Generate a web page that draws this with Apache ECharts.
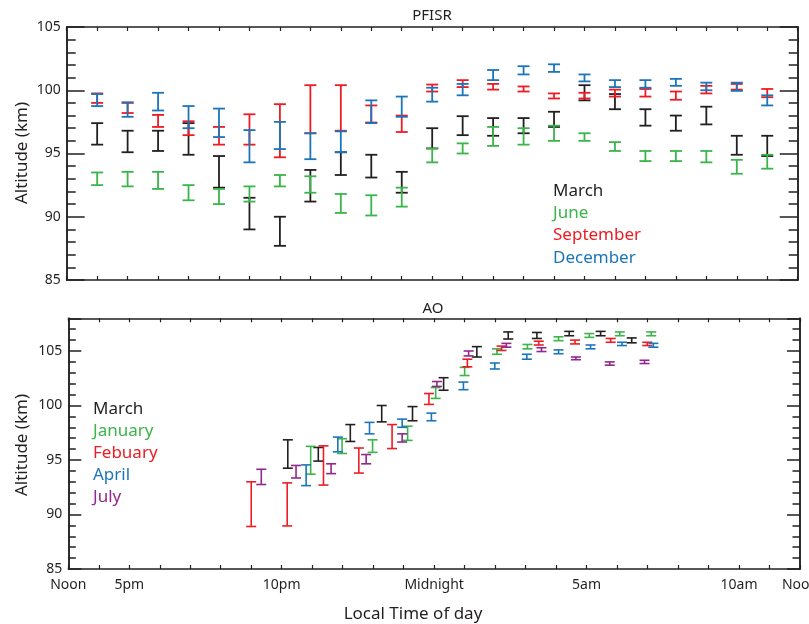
<!DOCTYPE html>
<html>
<head>
<meta charset="utf-8">
<script src="https://cdn.jsdelivr.net/npm/echarts@6/dist/echarts.min.js"></script>
<style>
html,body{margin:0;padding:0;background:#fff;}
#chart{width:809px;height:624px;}
</style>
</head>
<body>
<div id="chart"></div>
<script>
// ---------- DATA ----------
// x tick labels (hours since midnight of previous day: 12 = noon, 24 = midnight, 36 = noon)
const tickValues = [12, 14, 19, 24, 29, 34, 36];
const tickLabels = ['Noon', '5pm', '10pm', 'Midnight', '5am', '10am', 'Noon'];

// PFISR panel: hourly bins
const pfHours = [13,14,15,16,17,18,19,20,21,22,23,24,25,26,27,28,29,30,31,32,33,34,35];
const pfMarchLo = [95.7,95.1,95.2,94.9,92.3,89.0,87.7,91.2,93.3,93.1,91.9,95.4,96.45,96.4,96.6,97.1,99.2,98.5,97.2,96.8,97.3,94.9,94.8];
const pfMarchHi = [97.4,96.8,96.8,97.4,94.8,91.5,90.0,93.7,95.1,94.9,93.55,97.0,97.95,97.8,97.8,98.3,100.4,99.7,98.5,98.0,98.7,96.4,96.4];
const pfJuneLo = [92.5,92.4,92.2,91.3,91.0,91.2,92.4,91.9,90.3,90.1,90.8,94.3,95.0,95.6,95.7,96.0,96.0,95.2,94.4,94.4,94.3,93.4,93.8];
const pfJuneHi = [93.5,93.55,93.55,92.5,92.2,92.4,93.3,93.2,91.8,91.7,92.3,95.4,95.8,97.1,97.0,97.2,96.6,95.9,95.2,95.2,95.2,94.5,94.9];
const pfSepLo = [99.0,98.2,97.1,96.45,95.7,95.7,94.7,96.6,96.8,97.45,96.7,99.9,100.25,100.05,99.9,99.35,99.35,99.5,99.5,99.25,99.75,100.05,99.45];
const pfSepHi = [99.75,99.0,98.05,97.55,97.1,98.1,98.9,100.4,100.4,98.8,98.0,100.45,100.8,100.5,100.3,99.75,99.8,100.05,100.1,99.9,100.35,100.5,100.1];
const pfDecLo = [98.75,97.9,98.4,97.0,96.3,94.3,95.35,94.55,95.1,97.4,97.9,99.1,99.6,100.8,101.25,101.45,100.7,100.25,100.2,100.35,100.0,99.95,98.8];
const pfDecHi = [99.7,99.05,99.8,98.75,98.55,96.85,97.5,96.6,96.75,99.2,99.5,100.2,100.5,101.6,101.9,102.05,101.25,100.8,100.8,100.9,100.6,100.6,99.6];

// AO panel: each month has its own time positions
const aoMarchX  = [19.2,20.2,21.25,22.28,23.29,24.31,25.4,26.43,27.37,28.43,29.46,30.48];
const aoMarchLo = [94.25,94.9,96.7,98.5,98.6,101.4,104.45,106.1,106.15,106.4,106.4,105.75];
const aoMarchHi = [96.85,96.15,98.25,100.0,99.9,102.55,105.4,106.75,106.7,106.8,106.8,106.2];
const aoJanX  = [19.95,20.98,21.98,23.13,24.05,25.0,26.06,27.06,28.08,29.09,30.09,31.12];
const aoJanLo = [93.7,95.6,95.7,96.8,100.65,102.75,104.7,105.2,105.95,106.25,106.4,106.4];
const aoJanHi = [96.25,96.95,96.85,98.1,101.65,103.5,105.2,105.6,106.3,106.6,106.75,106.75];
const aoFebX  = [18.0,19.18,20.37,21.53,22.62,23.83,25.09,26.21,27.43,28.62,29.79,30.99];
const aoFebLo = [88.9,88.95,92.7,93.8,96.05,100.1,103.55,105.05,105.55,105.65,105.8,105.5];
const aoFebHi = [93.0,92.9,96.3,96.1,98.25,101.1,104.25,105.45,105.9,106.0,106.15,105.8];
const aoAprX  = [19.8,20.84,21.88,22.95,23.91,24.96,25.99,27.04,28.08,29.13,30.16,31.19];
const aoAprLo = [92.65,95.75,97.4,98.0,98.6,101.45,103.35,104.25,104.75,105.2,105.5,105.35];
const aoAprHi = [94.55,97.1,98.45,98.75,99.3,102.15,103.9,104.7,105.1,105.55,105.8,105.7];
const aoJulX  = [18.33,19.47,20.62,21.77,22.95,24.09,25.13,26.37,27.52,28.65,29.76,30.9];
const aoJulLo = [92.75,93.35,93.75,94.65,96.65,101.75,104.55,105.35,104.95,104.2,103.7,103.85];
const aoJulHi = [94.15,94.5,94.65,95.5,97.4,102.2,105.0,105.7,105.3,104.45,104.0,104.15];

const pfNames = ['March','June','September','December'];
const aoNames = ['March','January','Febuary','April','July'];

// ---------- STYLE ----------
const C = {black:'#231f20', green:'#39b54a', red:'#ed1c24', blue:'#1b75bb', purple:'#92278f'};
const FONT = 'Noto Sans';

function build(xs, lo, hi) { return xs.map((x, i) => [x, lo[i], hi[i]]); }

function makeRender(half, lw) {
  return function (params, api) {
    const x = api.value(0), l = api.value(1), h = api.value(2);
    const a = api.coord([x, h]), b = api.coord([x, l]);
    const col = api.visual('color');
    const st = {stroke: col, lineWidth: lw, fill: null};
    return {type: 'group', children: [
      {type: 'line', shape: {x1: a[0], y1: a[1], x2: b[0], y2: b[1]}, style: st},
      {type: 'line', shape: {x1: a[0]-half, y1: a[1], x2: a[0]+half, y2: a[1]}, style: st},
      {type: 'line', shape: {x1: b[0]-half, y1: b[1], x2: b[0]+half, y2: b[1]}, style: st}
    ]};
  };
}

function errSeries(name, data, color, xi, yi, half, lw) {
  return {type: 'custom', name: name, xAxisIndex: xi, yAxisIndex: yi,
    itemStyle: {color: color}, encode: {x: 0, y: [1, 2]},
    renderItem: makeRender(half, lw), data: data, silent: true, clip: false};
}

const axisLine = {show: true, onZero: false, lineStyle: {color: C.black, width: 1.5}};
function xAx(grid, pos, labels) {
  return {type: 'value', gridIndex: grid, position: pos, min: 12, max: 36, interval: 1,
    axisLine: axisLine, splitLine: {show: false},
    axisTick: {show: true, inside: true, length: 4, lineStyle: {color: C.black, width: 1.2}},
    axisLabel: labels ? {show: true, color: C.black, fontFamily: FONT, fontSize: 14, margin: 9,
      showMinLabel: true, showMaxLabel: true,
      formatter: v => { const k = tickValues.indexOf(Math.round(v*1000)/1000); return k >= 0 ? tickLabels[k] : ''; }}
      : {show: false}};
}
function yAx(grid, pos, max, interval, tickLen, labels) {
  return {type: 'value', gridIndex: grid, position: pos, min: 85, max: max, interval: interval,
    axisLine: axisLine, splitLine: {show: false},
    axisTick: {show: true, inside: true, length: tickLen, lineStyle: {color: C.black, width: 1.5}},
    axisLabel: labels ? {show: true, color: C.black, fontFamily: FONT, fontSize: 14, margin: 6,
      formatter: v => (v % 5 === 0 ? String(v) : '')} : {show: false}};
}

const option = {
  animation: false,
  backgroundColor: '#fff',
  grid: [
    {left: 66.7, top: 27, width: 731, height: 253, containLabel: false, outerBoundsMode: 'none'},
    {left: 68.3, top: 318.3, width: 731.7, height: 250.7, containLabel: false, outerBoundsMode: 'none'}
  ],
  xAxis: [xAx(0, 'bottom', false), xAx(0, 'top', false), xAx(1, 'bottom', true), xAx(1, 'top', false)],
  yAxis: [
    yAx(0, 'left', 105, 1, 9, false), yAx(0, 'left', 105, 5, 18, true),
    yAx(0, 'right', 105, 1, 9, false), yAx(0, 'right', 105, 5, 18, false),
    yAx(1, 'left', 108, 1, 7.5, false), yAx(1, 'left', 108, 5, 13, true),
    yAx(1, 'right', 108, 1, 7.5, false), yAx(1, 'right', 108, 5, 13, false)
  ],
  series: [
    errSeries('March', build(pfHours, pfMarchLo, pfMarchHi), C.black, 0, 1, 6, 1.8),
    errSeries('June', build(pfHours, pfJuneLo, pfJuneHi), C.green, 0, 1, 6, 1.8),
    errSeries('September', build(pfHours, pfSepLo, pfSepHi), C.red, 0, 1, 6, 1.8),
    errSeries('December', build(pfHours, pfDecLo, pfDecHi), C.blue, 0, 1, 6, 1.8),
    errSeries('March', build(aoMarchX, aoMarchLo, aoMarchHi), C.black, 2, 5, 5, 1.6),
    errSeries('January', build(aoJanX, aoJanLo, aoJanHi), C.green, 2, 5, 5, 1.6),
    errSeries('Febuary', build(aoFebX, aoFebLo, aoFebHi), C.red, 2, 5, 5, 1.6),
    errSeries('April', build(aoAprX, aoAprLo, aoAprHi), C.blue, 2, 5, 5, 1.6),
    errSeries('July', build(aoJulX, aoJulLo, aoJulHi), C.purple, 2, 5, 5, 1.6)
  ],
  graphic: [
    {type: 'text', left: 'center', x: 0, top: 7, style: {text: 'PFISR', fill: C.black, font: '15px "Noto Sans"'}, position: [0,0]},
    {type: 'text', x: 433, y: 309, style: {text: 'AO', fill: C.black, font: '15px "Noto Sans"', align: 'center', verticalAlign: 'middle'}},
    {type: 'text', x: 22, y: 153, rotation: Math.PI/2, style: {text: 'Altitude (km)', fill: C.black, font: '17px "Noto Sans"', align: 'center', verticalAlign: 'middle'}},
    {type: 'text', x: 22, y: 445, rotation: Math.PI/2, style: {text: 'Altitude (km)', fill: C.black, font: '17px "Noto Sans"', align: 'center', verticalAlign: 'middle'}},
    {type: 'text', x: 413, y: 614, style: {text: 'Local Time of day', fill: C.black, font: '17px "Noto Sans"', align: 'center', verticalAlign: 'middle'}}
  ].concat(
    pfNames.map((n, i) => ({type: 'text', x: 553, y: 191 + i*22.3,
      style: {text: n, fill: [C.black, C.green, C.red, C.blue][i], font: '17px "Noto Sans"', align: 'left', verticalAlign: 'middle'}})),
    aoNames.map((n, i) => ({type: 'text', x: 93, y: 409 + i*22,
      style: {text: n, fill: [C.black, C.green, C.red, C.blue, C.purple][i], font: '17px "Noto Sans"', align: 'left', verticalAlign: 'middle'}}))
  )
};
// fix PFISR title placement explicitly
option.graphic[0] = {type: 'text', x: 432, y: 16, style: {text: 'PFISR', fill: C.black, font: '15px "Noto Sans"', align: 'center', verticalAlign: 'middle'}};

const chart = echarts.init(document.getElementById('chart'), null, {renderer: 'canvas'});
chart.setOption(option);
</script>
</body>
</html>
